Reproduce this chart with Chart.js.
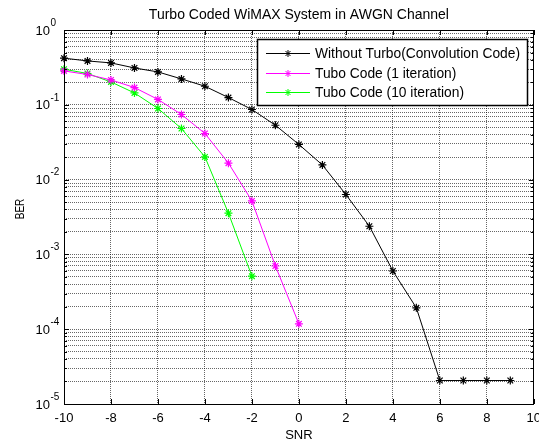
<!DOCTYPE html>
<html lang="en">
<head>
<meta charset="UTF-8">
<title>Turbo Coded WiMAX System in AWGN Channel</title>
<script src="https://cdn.jsdelivr.net/npm/chart.js@4.4.0/dist/chart.umd.min.js"></script>
<style>
  html, body { margin: 0; padding: 0; background: #fff; }
</style>
</head>
<body>
<canvas id="myChart" width="539" height="443"></canvas>
<script>
// data
var snrConv = [-10, -9, -8, -7, -6, -5, -4, -3, -2, -1, 0, 1, 2, 3, 4, 5, 6, 7, 8, 9];
var berConv = [0.42, 0.386, 0.363, 0.311, 0.275, 0.222, 0.177, 0.125, 0.0865, 0.0533, 0.0295, 0.0157, 0.00632, 0.00238, 0.0006, 0.000193, 0.0000206, 0.0000206, 0.0000206, 0.0000206];
var snrTurbo1 = [-10, -9, -8, -7, -6, -5, -4, -3, -2, -1, 0];
var berTurbo1 = [0.284, 0.254, 0.215, 0.170, 0.118, 0.0742, 0.0413, 0.0166, 0.00519, 0.0007, 0.000118];
var snrTurbo10 = [-10, -9, -8, -7, -6, -5, -4, -3, -2];
var berTurbo10 = [0.299, 0.262, 0.202, 0.144, 0.0893, 0.0482, 0.0201, 0.00356, 0.000512];

var seriesNames = ['Without Turbo(Convolution Code)', 'Tubo Code (1 iteration)', 'Tubo Code (10 iteration)'];
var seriesColors = ['#000000', '#ff00ff', '#00ff00'];

var xTicks = [-10, -8, -6, -4, -2, 0, 2, 4, 6, 8, 10];
var yDecades = [0, -1, -2, -3, -4, -5];
var yMinorSteps = [2, 3, 4, 5, 6, 7, 8, 9];

var titleText = 'Turbo Coded WiMAX System in AWGN Channel';
var xTitle = 'SNR';
var yTitle = 'BER';

var FONT = '"Liberation Sans", Arial, sans-serif';

function toPoints(xs, ys) {
    return xs.map(function (x, i) { return { x: x, y: ys[i] }; });
}

// all grid positions on the log axis: decades plus 2..9 in between
var yGridValues = [];
yDecades.forEach(function (e) {
    yGridValues.push(Math.pow(10, e));
    if (e > -5) {
        yMinorSteps.forEach(function (m) { yGridValues.push(m * Math.pow(10, e - 1)); });
    }
});

var matlabLook = {
    id: 'matlabLook',
    afterDraw: function (chart) {
        var ctx = chart.ctx;
        var a = chart.chartArea;
        var xs = chart.scales.x, ys = chart.scales.y;
        ctx.save();

        // axes box
        ctx.strokeStyle = '#000';
        ctx.lineWidth = 1;
        ctx.strokeRect(Math.round(a.left) + 0.5, Math.round(a.top) + 0.5,
            Math.round(a.right - a.left) - 1, Math.round(a.bottom - a.top));

        // inner tick marks
        ctx.beginPath();
        xTicks.forEach(function (v) {
            var px = Math.round(xs.getPixelForValue(v)) + 0.5;
            ctx.moveTo(px, a.bottom); ctx.lineTo(px, a.bottom - 5);
            ctx.moveTo(px, a.top); ctx.lineTo(px, a.top + 5);
        });
        yGridValues.forEach(function (v) {
            var py = Math.round(ys.getPixelForValue(v)) + 0.5;
            var len = Math.abs(Math.log10(v) - Math.round(Math.log10(v))) < 1e-9 ? 5 : 3;
            ctx.moveTo(a.left, py); ctx.lineTo(a.left + len, py);
            ctx.moveTo(a.right, py); ctx.lineTo(a.right - len, py);
        });
        ctx.stroke();

        // x tick labels
        ctx.fillStyle = '#000';
        ctx.font = '13px ' + FONT;
        ctx.textAlign = 'center';
        ctx.textBaseline = 'middle';
        xTicks.forEach(function (v) {
            ctx.fillText(String(v), xs.getPixelForValue(v), a.bottom + 14);
        });

        // y tick labels 10^n
        yDecades.forEach(function (e) {
            var py = ys.getPixelForValue(Math.pow(10, e));
            ctx.font = '13px ' + FONT;
            ctx.textAlign = 'right';
            ctx.fillText('10', 50, py + 1);
            ctx.font = '10px ' + FONT;
            ctx.textAlign = 'left';
            ctx.fillText(String(e), 50.5, py - 7);
        });

        // titles
        ctx.font = '14px ' + FONT;
        ctx.textAlign = 'center';
        ctx.fillText(titleText, (a.left + a.right) / 2, 15);
        ctx.font = '13px ' + FONT;
        ctx.fillText(xTitle, (a.left + a.right) / 2, 435);
        ctx.save();
        ctx.translate(20, 209);
        ctx.scale(1.35, 1);
        ctx.rotate(-Math.PI / 2);
        ctx.font = '10px ' + FONT;
        ctx.fillText(yTitle, 0, 0);
        ctx.restore();

        // legend box
        var lx = 257, ly = 39, lw = 270, lh = 66;
        ctx.fillStyle = '#fff';
        ctx.fillRect(lx, ly, lw, lh);
        ctx.strokeStyle = '#000';
        ctx.lineWidth = 1.5;
        ctx.strokeRect(lx + 0.5, ly + 0.5, lw, lh);
        var rows = [53, 73, 92];
        chart.data.datasets.forEach(function (ds, i) {
            var ry = rows[i] + 0.5;
            ctx.strokeStyle = ds.borderColor;
            ctx.lineWidth = 1;
            ctx.beginPath();
            ctx.moveTo(266, ry); ctx.lineTo(310, ry);
            ctx.stroke();
            Chart.helpers.drawPoint(ctx, { pointStyle: 'star', radius: 3.5, borderWidth: 1.2 }, 288, ry);
            ctx.fillStyle = '#000';
            ctx.font = '13.8px ' + FONT;
            ctx.textAlign = 'left';
            ctx.textBaseline = 'middle';
            ctx.fillText(ds.label, 315, rows[i] + 1);
        });
        ctx.restore();
    }
};

function makeSet(i, xs, ys) {
    return {
        label: seriesNames[i],
        data: toPoints(xs, ys),
        borderColor: seriesColors[i],
        backgroundColor: seriesColors[i],
        borderWidth: 1,
        pointStyle: 'star',
        pointRadius: 4,
        pointBorderWidth: 1.2,
        pointHoverRadius: 4,
        tension: 0,
        clip: false
    };
}

var gridOpts = {
    color: 'rgba(0,0,0,0.6)',
    lineWidth: 1,
    drawTicks: false
};

var ctx = document.getElementById('myChart').getContext('2d');
var myChart = new Chart(ctx, {
    type: 'line',
    data: {
        datasets: [
            makeSet(0, snrConv, berConv),
            makeSet(1, snrTurbo1, berTurbo1),
            makeSet(2, snrTurbo10, berTurbo10)
        ]
    },
    options: {
        responsive: false,
        animation: false,
        devicePixelRatio: 1,
        layout: { padding: { left: 64, top: 30, right: 2, bottom: 39 } },
        plugins: { legend: { display: false }, tooltip: { enabled: false } },
        scales: {
            x: {
                type: 'linear',
                min: -10, max: 10,
                ticks: { display: false, stepSize: 2 },
                afterBuildTicks: function (s) { s.ticks = xTicks.map(function (v) { return { value: v }; }); },
                afterFit: function (s) { s.height = 0; },
                grid: gridOpts,
                border: { display: false, dash: [1, 1] }
            },
            y: {
                type: 'logarithmic',
                min: 1e-5, max: 1,
                ticks: { display: false },
                afterBuildTicks: function (s) { s.ticks = yGridValues.map(function (v) { return { value: v }; }); },
                afterFit: function (s) { s.width = 0; },
                grid: gridOpts,
                border: { display: false, dash: [1, 1] }
            }
        }
    },
    plugins: [matlabLook]
});
</script>
</body>
</html>
